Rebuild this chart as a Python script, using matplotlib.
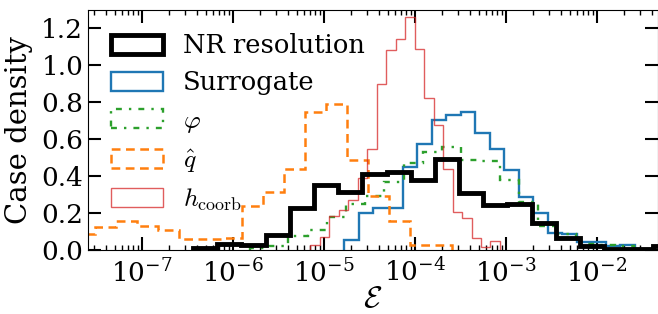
import numpy as np
import matplotlib
matplotlib.use("Agg")
import matplotlib.pyplot as plt

plt.rcParams['font.family'] = 'serif'
plt.rcParams['font.serif'] = ['DejaVu Serif']
plt.rcParams['mathtext.fontset'] = 'cm'

# log10 of first / last bin edge for each series, and the bin heights
nr_range = (-6.440, -1.122)
nr_heights = [0.012, 0.03, 0.025, 0.08, 0.225, 0.35, 0.315, 0.41, 0.42, 0.38,
              0.495, 0.307, 0.243, 0.25, 0.148, 0.065, 0.02, 0.008, 0.008, 0.02]

sur_range = (-4.775, -1.583)
sur_heights = [0.055, 0.20, 0.225, 0.225, 0.45, 0.574, 0.706, 0.73, 0.745, 0.633,
               0.548, 0.436, 0.289, 0.198, 0.09, 0.088, 0.046, 0.046, 0.022, 0.027]

phi_range = (-5.813, -1.593)
phi_heights = [0.01, 0.02, 0.075, 0.106, 0.18, 0.25, 0.29, 0.367, 0.473, 0.53,
               0.56, 0.485, 0.48, 0.38, 0.258, 0.128, 0.088, 0.035, 0.025, 0.02]

q_range = (-7.742, -3.588)
q_heights = [0.085, 0.125, 0.156, 0.132, 0.106, 0.058, 0.06, 0.064, 0.238, 0.315,
             0.44, 0.75, 0.79, 0.49, 0.29, 0.157, 0.027, 0.027]

h_range = (-5.149, -3.066)
h_heights = [0.027, 0.073, 0.183, 0.216, 0.27, 0.39, 0.546, 0.90, 1.086, 1.141,
             1.262, 1.088, 0.826, 0.679, 0.437, 0.205, 0.172, 0.066, 0.016, 0.051]

labels = ['NR resolution', 'Surrogate', r'$\varphi$', r'$\hat{q}$', r'$h_{\mathrm{coorb}}$']


def step_hist(ax, rng, heights, **kw):
    edges = np.logspace(rng[0], rng[1], len(heights) + 1)
    ax.hist(edges[:-1], bins=edges, weights=heights, histtype='step', **kw)


fig = plt.figure(figsize=(6.58, 3.14), dpi=100)
ax = fig.add_axes([88/658, 64/314, 569.5/658, 240/314])

step_hist(ax, nr_range, nr_heights, color='black', lw=3.5, label=labels[0], zorder=3)
step_hist(ax, sur_range, sur_heights, color='C0', lw=1.7, label=labels[1], zorder=2)
step_hist(ax, phi_range, phi_heights, color='C2', lw=1.7, ls=(0, (2.5, 3, 1, 3)),
          label=labels[2], zorder=2)
step_hist(ax, q_range, q_heights, color='C1', lw=1.8, ls=(0, (3.5, 2.2)),
          label=labels[3], zorder=2)
step_hist(ax, h_range, h_heights, color='C3', lw=1.0, alpha=0.75, label=labels[4], zorder=2)

ax.set_xscale('log')
ax.set_xlim(10**-7.593, 10**-1.335)
ax.set_ylim(0, 1.3)
ax.set_yticks([0, 0.2, 0.4, 0.6, 0.8, 1.0, 1.2])
ax.tick_params(which='both', direction='in', top=True, right=True, labelsize=19)
ax.tick_params(which='major', length=9.5, width=1.5)
ax.tick_params(which='minor', length=3.6, width=1)
ax.tick_params(axis='x', which='major', pad=6)
ax.yaxis.set_minor_locator(plt.NullLocator())

ax.set_xlabel(r'$\mathcal{E}$', fontsize=22, labelpad=-3)
ax.set_ylabel('Case density', fontsize=21, labelpad=6)

ax.legend(loc='upper left', frameon=False, fontsize=18.5, handlelength=2.0,
          handleheight=0.75, handletextpad=0.8, labelspacing=0.48,
          borderaxespad=0.6, borderpad=0.3)

fig.savefig('out.png', dpi=100)
